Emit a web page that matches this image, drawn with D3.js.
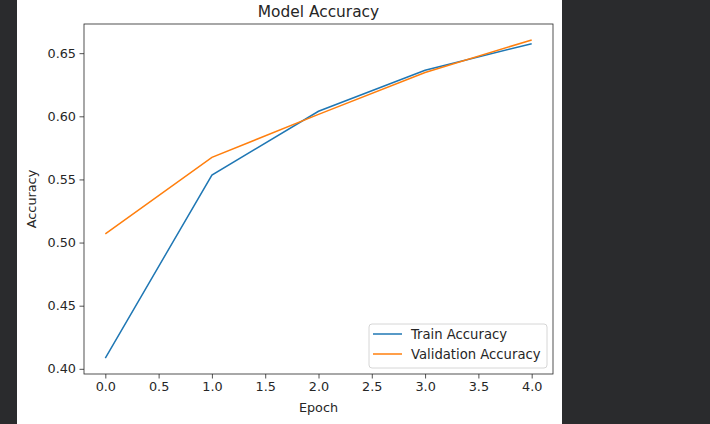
<!DOCTYPE html>
<html><head><meta charset="utf-8">
<script src="https://cdn.jsdelivr.net/npm/d3@7"></script>
<style>
html,body{margin:0;padding:0;background:#2a2b2d;}
svg{display:block;}
text{font-family:"DejaVu Sans",sans-serif;fill:#262626;}
</style></head>
<body>
<svg id="c" width="710" height="424"></svg>
<script>
const epochs = [0, 1, 2, 3, 4];
const trainAcc = [0.4085, 0.5535, 0.6040, 0.6365, 0.6575];
const valAcc = [0.5068, 0.5675, 0.6015, 0.6347, 0.6605];
const xTicks = [0.0, 0.5, 1.0, 1.5, 2.0, 2.5, 3.0, 3.5, 4.0];
const yTicks = [0.40, 0.45, 0.50, 0.55, 0.60, 0.65];
const seriesNames = ["Train Accuracy", "Validation Accuracy"];
const colors = ["#1f77b4", "#ff7f0e"];

const svg = d3.select("#c");
svg.append("rect").attr("x",0).attr("y",0).attr("width",710).attr("height",424).attr("fill","#2a2b2d");
svg.append("rect").attr("x",17).attr("y",0).attr("width",545).attr("height",424).attr("fill","#ffffff");

const L=84, R=553, T=24, B=374;
const FS = "12.8px";
const all = trainAcc.concat(valAcc);
const ymin = d3.min(all), ymax = d3.max(all), pad = (ymax-ymin)*0.05;
const x = d3.scaleLinear().domain([-0.2, 4.2]).range([L, R]);
const y = d3.scaleLinear().domain([ymin-pad, ymax+pad]).range([B, T]);

const xAxis = svg.append("g").attr("transform",`translate(0,${B})`)
  .call(d3.axisBottom(x).tickValues(xTicks).tickFormat(d3.format(".1f")).tickSize(4.5).tickPadding(3.5));
const yAxis = svg.append("g").attr("transform",`translate(${L},0)`)
  .call(d3.axisLeft(y).tickValues(yTicks).tickFormat(d3.format(".2f")).tickSize(4.5).tickPadding(3.5));
[xAxis,yAxis].forEach(g=>{
  g.select(".domain").remove();
  g.selectAll("line").attr("stroke","#262626").attr("stroke-width",0.8);
  g.selectAll("text").style("font-family","DejaVu Sans").style("font-size",FS).attr("fill","#262626");
});

const line = d3.line().x((d,i)=>x(epochs[i])).y(d=>y(d));
[trainAcc, valAcc].forEach((s,k)=>{
  svg.append("path").datum(s).attr("d",line).attr("fill","none")
    .attr("stroke",colors[k]).attr("stroke-width",1.5);
});

svg.append("rect").attr("x",L).attr("y",T).attr("width",R-L).attr("height",B-T)
  .attr("fill","none").attr("stroke","#262626").attr("stroke-width",0.8);

svg.append("text").attr("x",(L+R)/2).attr("y",17).attr("text-anchor","middle")
  .style("font-size","15.4px").text("Model Accuracy");
svg.append("text").attr("x",(L+R)/2).attr("y",412).attr("text-anchor","middle")
  .style("font-size",FS).text("Epoch");
svg.append("text").attr("transform",`translate(36,${(T+B)/2}) rotate(-90)`).attr("text-anchor","middle")
  .style("font-size",FS).text("Accuracy");

// legend
const lg = svg.append("g");
lg.append("rect").attr("x",369).attr("y",324).attr("width",178).attr("height",44).attr("rx",3)
  .attr("fill","#ffffff").attr("fill-opacity",0.8).attr("stroke","#cccccc").attr("stroke-width",0.8);
seriesNames.forEach((n,i)=>{
  const yy = 334 + i*20;
  lg.append("line").attr("x1",373).attr("x2",402).attr("y1",yy).attr("y2",yy)
    .attr("stroke",colors[i]).attr("stroke-width",1.5);
  lg.append("text").attr("x",411).attr("y",yy+4.6).style("font-size","13.2px").text(n);
});
</script>
</body></html>
